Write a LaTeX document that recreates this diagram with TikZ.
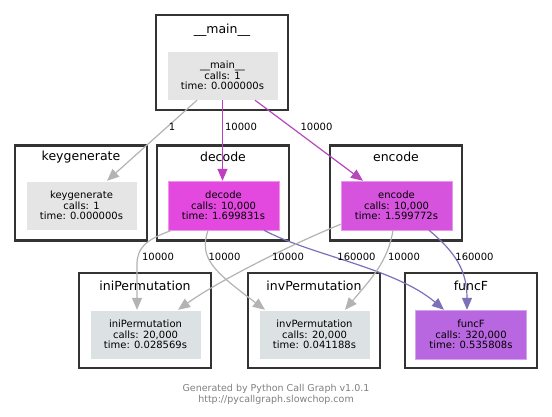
\documentclass[tikz,border=0pt]{standalone}
\usepackage{fontspec}
\setmainfont{DejaVu Sans}
\usetikzlibrary{arrows.meta}
\definecolor{framegray}{HTML}{333333}
\definecolor{idlegray}{HTML}{E5E5E5}
\definecolor{permgray}{HTML}{DCE2E4}
\definecolor{decodepink}{HTML}{E449DF}
\definecolor{encodepink}{HTML}{D653DE}
\definecolor{funcpurple}{HTML}{B867E0}
\definecolor{hotedge}{HTML}{C03CC0}
\definecolor{warmedge}{HTML}{B648BC}
\definecolor{cooledge}{HTML}{7C70B9}
\definecolor{lightedge}{HTML}{B3B3B3}
\definecolor{footgray}{HTML}{808080}

\begin{document}
\begin{tikzpicture}[x=1pt,y=-1pt,
  every node/.style={inner sep=0pt},
  cluster/.style={rectangle,draw=framegray,line width=2.8pt,minimum width=132pt,minimum height=95pt},
  ctitle/.style={font=\fontsize{12.5}{14}\selectfont},
  func/.style={rectangle,minimum width=111pt,minimum height=49pt,align=center,font=\fontsize{10}{10.5}\selectfont},
  call/.style={-{Triangle[length=12pt,width=10pt]},line width=1.2pt},
  count/.style={font=\fontsize{10}{12}\selectfont}
]
\fill[white] (0,0) rectangle (552,417);
\useasboundingbox (0,0) rectangle (552,417);

\node[cluster] (mainf) at (222,62.5) {};
\node[cluster] (keyf) at (81,193) {};
\node[cluster] (decf) at (223,193) {};
\node[cluster] (encf) at (396,193) {};
\node[cluster] (inif) at (145,320.5) {};
\node[cluster] (invf) at (314,320.5) {};
\node[cluster] (funf) at (471,320.5) {};

\node[ctitle] (maint) at (222,30) {\_\_main\_\_};
\node[ctitle] (keyt) at (81,157) {keygenerate};
\node[ctitle] (dect) at (223,157) {decode};
\node[ctitle] (enct) at (396,157) {encode};
\node[ctitle] (init) at (145,286) {iniPermutation};
\node[ctitle] (invt) at (314,286) {invPermutation};
\node[ctitle] (funt) at (471,286) {funcF};

\node[func,fill=idlegray,draw=white] (mainn) at (222.5,75.5) {\_\_main\_\_\\calls: 1\\time: 0.000000s};
\node[func,fill=idlegray,draw=white] (key) at (81.5,205.5) {keygenerate\\calls: 1\\time: 0.000000s};
\node[func,fill=decodepink,draw=decodepink!60!white] (dec) at (223.5,205.5) {decode\\calls: 10,000\\time: 1.699831s};
\node[func,fill=encodepink,draw=encodepink!60!white] (enc) at (396.5,205.5) {encode\\calls: 10,000\\time: 1.599772s};
\node[func,fill=permgray,draw=white] (ini) at (145.5,334.5) {iniPermutation\\calls: 20,000\\time: 0.028569s};
\node[func,fill=permgray,draw=white] (inv) at (314.5,334.5) {invPermutation\\calls: 20,000\\time: 0.041188s};
\node[func,fill=funcpurple,draw=funcpurple!60!white] (fun) at (471,334.5) {funcF\\calls: 320,000\\time: 0.535808s};

\draw[call,lightedge] ([xshift=-25.5pt]mainn.south) -- ([xshift=25.5pt]key.north) node[count,text=black] (c1) at (172,127) {1};
\draw[call,hotedge] (mainn.south) -- (mainn.south |- dec.north) node[count,text=black] (c2) at (241,127) {10000};
\draw[call,warmedge] ([xshift=32.5pt]mainn.south) -- ([xshift=-33.5pt]enc.north) node[count,text=black] (c3) at (316.5,127) {10000};

\draw[call,lightedge] ([xshift=-51.5pt]dec.south) .. controls (145,240) and (137,248) .. (137,265) -- ([xshift=-8.5pt]ini.north) node[count,text=black] (c4) at (158,257) {10000};
\draw[call,lightedge] ([xshift=-15.5pt]dec.south) .. controls (199,258) and (212,270) .. ([xshift=-49.5pt]inv.north) node[count,text=black] (c5) at (224.5,257) {10000};
\draw[call,cooledge] ([xshift=40.5pt]dec.south) .. controls (310,255) and (395,268) .. ([xshift=-27pt]fun.north) node[count,text=black] (c6) at (356.5,257) {160000};
\draw[call,lightedge] ([yshift=6pt]enc.south west) .. controls (290,245) and (220,280) .. ([xshift=32.5pt]ini.north) node[count,text=black] (c7) at (288,257) {10000};
\draw[call,lightedge] ([xshift=-3.5pt]enc.south) .. controls (388,262) and (370,280) .. ([xshift=30.5pt]inv.north) node[count,text=black] (c8) at (404,257) {10000};
\draw[call,cooledge] ([xshift=32.5pt]enc.south) .. controls (455,252) and (467,270) .. ([xshift=-4pt]fun.north) node[count,text=black] (c9) at (474.5,257) {160000};

\node[font=\fontsize{9.5}{11}\selectfont,text=footgray,align=center] (foot) at (276,394.5) {Generated by Python Call Graph v1.0.1\\http://pycallgraph.slowchop.com};
\end{tikzpicture}
\end{document}
